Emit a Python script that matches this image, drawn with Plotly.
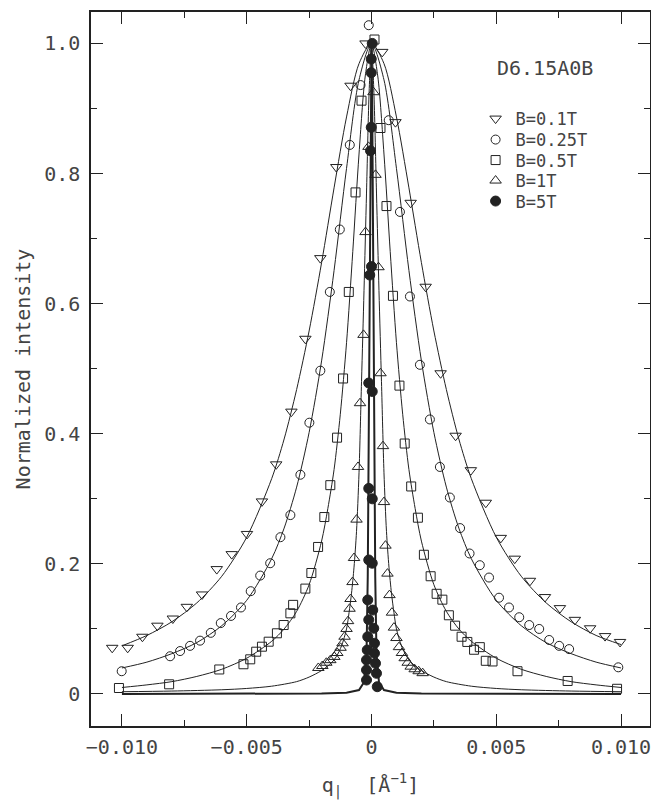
import plotly.graph_objects as go

# ---------------- data ----------------
labels = ["B=0.1T", "B=0.25T", "B=0.5T", "B=1T", "B=5T"]

# B = 0.1 T  (down triangles)
q_01 = [-0.01039, -0.00977, -0.00918, -0.00858, -0.00796, -0.00740, -0.00679, -0.00620, -0.00560, -0.00499,
        -0.00439, -0.00382, -0.00321, -0.00265, -0.00205, -0.00141, -0.00084, -0.00024,
        0.00043, 0.00096, 0.00157, 0.00217, 0.00277, 0.00337, 0.00398, 0.00458, 0.00518, 0.00574,
        0.00635, 0.00695, 0.00755, 0.00815, 0.00876, 0.00936, 0.00996]
I_01 = [0.071, 0.071, 0.088, 0.105, 0.116, 0.134, 0.153, 0.192, 0.215, 0.246,
        0.296, 0.353, 0.434, 0.546, 0.670, 0.810, 0.935, 1.000,
        0.987, 0.879, 0.755, 0.626, 0.493, 0.397, 0.344, 0.294, 0.240, 0.208,
        0.174, 0.149, 0.132, 0.114, 0.101, 0.089, 0.080]

# B = 0.25 T  (open circles)
q_025 = [-0.01001, -0.00807, -0.00767, -0.00727, -0.00687, -0.00644, -0.00604, -0.00563, -0.00523, -0.00484,
         -0.00446, -0.00406, -0.00365, -0.00325, -0.00285, -0.00249, -0.00205, -0.00167, -0.00127, -0.00087,
         -0.00044, -0.00011,
         0.00069, 0.00114, 0.00154, 0.00194, 0.00234, 0.00274, 0.00314, 0.00355, 0.00393, 0.00434,
         0.00471, 0.00511, 0.00551, 0.00592, 0.00632, 0.00672, 0.00712, 0.00752, 0.00792, 0.00989]
I_025 = [0.035, 0.058, 0.066, 0.074, 0.082, 0.094, 0.109, 0.120, 0.133, 0.158,
         0.182, 0.201, 0.241, 0.275, 0.337, 0.417, 0.497, 0.618, 0.714, 0.844,
         0.936, 1.028,
         0.882, 0.741, 0.611, 0.506, 0.422, 0.349, 0.302, 0.255, 0.216, 0.198,
         0.179, 0.148, 0.133, 0.118, 0.106, 0.100, 0.083, 0.074, 0.069, 0.041]

# B = 0.5 T  (open squares)
q_05 = [-0.01012, -0.00811, -0.00610, -0.00513, -0.00486, -0.00462, -0.00439, -0.00412, -0.00379, -0.00352,
        -0.00325, -0.00314, -0.00265, -0.00241, -0.00214, -0.00189, -0.00165, -0.00138, -0.00114, -0.00091,
        -0.00064, -0.00040,
        0.00012, 0.00036, 0.00060, 0.00086, 0.00112, 0.00133, 0.00159, 0.00186, 0.00210, 0.00237,
        0.00261, 0.00284, 0.00310, 0.00335, 0.00361, 0.00384, 0.00411, 0.00434, 0.00458, 0.00485,
        0.00585, 0.00786, 0.00984]
I_05 = [0.0092, 0.0149, 0.0377, 0.0457, 0.0533, 0.065, 0.0727, 0.0804, 0.0933, 0.106,
        0.124, 0.137, 0.162, 0.186, 0.226, 0.272, 0.321, 0.394, 0.485, 0.618,
        0.771, 0.912,
        1.006, 0.870, 0.750, 0.612, 0.474, 0.385, 0.319, 0.271, 0.214, 0.181,
        0.154, 0.145, 0.121, 0.105, 0.088, 0.080, 0.068, 0.072, 0.051, 0.050,
        0.035, 0.020, 0.008]

# B = 1 T  (up triangles)
q_1 = [-0.00213, -0.00197, -0.00181, -0.00165, -0.00149, -0.00137, -0.00124, -0.00116, -0.00108, -0.00100,
       -0.00094, -0.00088, -0.00084, -0.00076, -0.00070, -0.00060, -0.00054, -0.00046, -0.00032, -0.00024,
       -0.00012,
       0.00008, 0.00016, 0.00028, 0.00036, 0.00046, 0.00050, 0.00056, 0.00064, 0.00072, 0.00082,
       0.00090, 0.00100, 0.00110, 0.00122, 0.00133, 0.00145, 0.00157, 0.00173, 0.00189, 0.00205]
I_1 = [0.040, 0.043, 0.048, 0.052, 0.057, 0.063, 0.071, 0.078, 0.088, 0.100,
       0.112, 0.131, 0.146, 0.172, 0.209, 0.268, 0.349, 0.447, 0.552, 0.710,
       0.841,
       0.925, 0.798, 0.656, 0.493, 0.381, 0.295, 0.228, 0.185, 0.152, 0.125,
       0.102, 0.086, 0.072, 0.063, 0.055, 0.048, 0.042, 0.038, 0.035, 0.032]

# B = 5 T  (filled circles)
q_5 = [0.00003, -0.00001, -0.00001, -0.00001, -0.00004, 0.00000, -0.00007, -0.00011, 0.00003, -0.00011,
       0.00003, -0.00011, 0.00003, -0.00015, 0.00005, -0.00011, 0.00009, -0.00015, 0.00012, -0.00017,
       0.00012, -0.00020, 0.00016, -0.00020, 0.00020, -0.00020, 0.00023]
I_5 = [1.000, 0.976, 0.955, 0.871, 0.835, 0.657, 0.644, 0.478, 0.465, 0.316,
       0.300, 0.206, 0.201, 0.1445, 0.129, 0.114, 0.101, 0.088, 0.078, 0.0676,
       0.0626, 0.0523, 0.0472, 0.0369, 0.0318, 0.0215, 0.0112]

# fitted curves
fq_01 = [-0.010, -0.009, -0.008, -0.007, -0.006, -0.005, -0.004, -0.0035, -0.003, -0.0025, -0.002, -0.0015,
         -0.001, -0.0005, 0.0, 0.0005, 0.001, 0.0015, 0.002, 0.0025, 0.003, 0.0035, 0.004, 0.005, 0.006,
         0.007, 0.008, 0.009, 0.010]
fI_01 = [0.074, 0.090, 0.111, 0.140, 0.181, 0.241, 0.331, 0.392, 0.468, 0.558, 0.663, 0.778,
         0.887, 0.969, 1.000, 0.969, 0.887, 0.778, 0.663, 0.558, 0.468, 0.392, 0.331, 0.241, 0.181,
         0.140, 0.111, 0.090, 0.076]

fq_025 = [-0.010, -0.009, -0.008, -0.007, -0.006, -0.005, -0.004, -0.0035, -0.003, -0.0025, -0.002, -0.0015,
          -0.001, -0.0005, 0.0, 0.0005, 0.001, 0.0015, 0.002, 0.0025, 0.003, 0.0035, 0.004, 0.005, 0.006,
          0.007, 0.008, 0.009, 0.010]
fI_025 = [0.040, 0.049, 0.062, 0.079, 0.105, 0.144, 0.208, 0.255, 0.318, 0.402, 0.512, 0.651,
          0.808, 0.944, 1.000, 0.944, 0.808, 0.651, 0.512, 0.402, 0.318, 0.255, 0.208, 0.144, 0.105,
          0.079, 0.062, 0.049, 0.040]

fq_05 = [-0.010, -0.009, -0.008, -0.007, -0.006, -0.005, -0.004, -0.0035, -0.003, -0.0025, -0.002, -0.00175,
         -0.0015, -0.00125, -0.001, -0.00075, -0.0005, -0.00025, 0.0, 0.00025, 0.0005, 0.00075, 0.001,
         0.00125, 0.0015, 0.00175, 0.002, 0.0025, 0.003, 0.0035, 0.004, 0.005, 0.006, 0.007, 0.008,
         0.009, 0.010]
fI_05 = [0.010, 0.014, 0.019, 0.027, 0.038, 0.055, 0.081, 0.100, 0.127, 0.168, 0.235, 0.285,
         0.345, 0.430, 0.540, 0.680, 0.830, 0.950, 1.000, 0.950, 0.830, 0.680, 0.540,
         0.430, 0.345, 0.285, 0.235, 0.168, 0.127, 0.100, 0.081, 0.055, 0.038, 0.027, 0.019,
         0.014, 0.010]

fq_1 = [-0.010, -0.008, -0.006, -0.005, -0.004, -0.003, -0.0025, -0.002, -0.0016, -0.0014, -0.0012,
        -0.001, -0.0009, -0.0008, -0.0007, -0.0006, -0.0005, -0.0004, -0.0003, -0.0002, -0.0001, 0.0,
        0.0001, 0.0002, 0.0003, 0.0004, 0.0005, 0.0006, 0.0007, 0.0008, 0.0009, 0.001, 0.0012,
        0.0014, 0.0016, 0.002, 0.0025, 0.003, 0.004, 0.005, 0.006, 0.008, 0.010]
fI_1 = [0.0035, 0.0045, 0.0065, 0.0085, 0.012, 0.019, 0.026, 0.036, 0.048, 0.058, 0.074,
        0.100, 0.125, 0.155, 0.195, 0.250, 0.340, 0.480, 0.620, 0.770, 0.920, 1.000,
        0.920, 0.770, 0.620, 0.480, 0.340, 0.250, 0.195, 0.155, 0.125, 0.100, 0.074,
        0.058, 0.048, 0.036, 0.026, 0.019, 0.012, 0.0085, 0.0065, 0.0045, 0.0035]

fq_5 = [-0.010, -0.005, -0.002, -0.001, -0.0005, -0.0003, -0.0002, -0.00015, -0.0001, -0.00006, -0.00003,
        0.0, 0.00003, 0.00006, 0.0001, 0.00015, 0.0002, 0.0003, 0.0005, 0.001, 0.002, 0.005, 0.010]
fI_5 = [0.0001, 0.0003, 0.0008, 0.002, 0.006, 0.018, 0.060, 0.180, 0.450, 0.700, 0.900,
        1.000, 0.900, 0.700, 0.450, 0.180, 0.060, 0.018, 0.006, 0.002, 0.0008, 0.0003, 0.0001]

x_tickvals = [-0.010, -0.005, 0.0, 0.005, 0.010]
x_ticktext = ["\u22120.010", "\u22120.005", "0", "0.005", "0.010"]
x_minor = [-0.0075, -0.0025, 0.0025, 0.0075]
y_tickvals = [0.0, 0.2, 0.4, 0.6, 0.8, 1.0]
y_ticktext = ["0", "0.2", "0.4", "0.6", "0.8", "1.0"]
y_minor = [0.1, 0.3, 0.5, 0.7, 0.9]
sample_name = "D6.15A0B"

# ---------------- figure ----------------
FONT = "DejaVu Sans Mono"
INK = "#222222"
TXT = "#444444"

data_q = [q_01, q_025, q_05, q_1, q_5]
data_I = [I_01, I_025, I_05, I_1, I_5]
fit_q = [fq_01, fq_025, fq_05, fq_1, fq_5]
fit_I = [fI_01, fI_025, fI_05, fI_1, fI_5]
symbols = ["triangle-down-open", "circle-open", "square-open", "triangle-up-open", "circle"]
sizes = [10, 9, 9, 10, 10]

fig = go.Figure()
for k in range(5):
    fig.add_trace(go.Scatter(
        x=fit_q[k], y=fit_I[k], mode="lines",
        line=dict(color=INK, width=2 if k == 4 else 1,
                  shape="linear" if k == 4 else "spline", smoothing=0.8),
        showlegend=False, hoverinfo="skip"))

legend_y = [0.8501, 0.8207, 0.7920, 0.7633, 0.7346]
for k in range(5):
    lg = "legend" if k == 0 else "legend%d" % (k + 1)
    fig.add_trace(go.Scatter(
        x=data_q[k], y=data_I[k], mode="markers", name=labels[k],
        marker=dict(symbol=symbols[k], size=sizes[k], color=INK,
                    line=dict(color=INK, width=1)),
        legend=lg))

legend_common = dict(x=0.6880, xanchor="left", yanchor="middle",
                     bgcolor="rgba(0,0,0,0)", borderwidth=0,
                     font=dict(family=FONT, size=17, color=TXT),
                     itemclick=False, itemdoubleclick=False)
layout_legends = {}
for k in range(5):
    key = "legend" if k == 0 else "legend%d" % (k + 1)
    layout_legends[key] = dict(legend_common, y=legend_y[k])

axis_common = dict(showline=True, linecolor=INK, linewidth=1.5, mirror="ticks",
                   ticks="inside", ticklen=12, tickwidth=1.2, tickcolor=INK,
                   showgrid=False, zeroline=False, automargin=False,
                   ticklabeloverflow="allow",
                   tickfont=dict(family=FONT, size=20, color=TXT))

fig.update_layout(
    width=651, height=807,
    margin=dict(l=91, r=1, t=12, b=81),
    paper_bgcolor="white", plot_bgcolor="white",
    template="none",
    xaxis=dict(axis_common, range=[-0.01124, 0.01116],
               tickmode="array", tickvals=x_tickvals, ticktext=x_ticktext,
               minor=dict(tickmode="array", tickvals=x_minor, ticks="inside",
                          ticklen=6, tickwidth=1.2, tickcolor=INK),
               ticklabelstandoff=2,
               title=dict(text="q<sub>|</sub>\u00a0\u00a0[Å<sup>\u22121</sup>]",
                          font=dict(family=FONT, size=20, color=TXT), standoff=20)),
    yaxis=dict(axis_common, range=[-0.0492, 1.0483],
               tickmode="array", tickvals=y_tickvals, ticktext=y_ticktext,
               minor=dict(tickmode="array", tickvals=y_minor, ticks="inside",
                          ticklen=6, tickwidth=1.2, tickcolor=INK),
               ticklabelstandoff=5,
               title=dict(text="Normalized intensity",
                          font=dict(family=FONT, size=20, color=TXT), standoff=8)),
    annotations=[dict(text=sample_name, x=0.7227, y=0.9216, xref="paper", yref="paper",
                      xanchor="left", yanchor="middle", showarrow=False,
                      font=dict(family=FONT, size=20, color=TXT))],
    **layout_legends,
)

fig.write_html("out.html", config={"displayModeBar": False},
               post_script="document.body.style.margin='0';")
